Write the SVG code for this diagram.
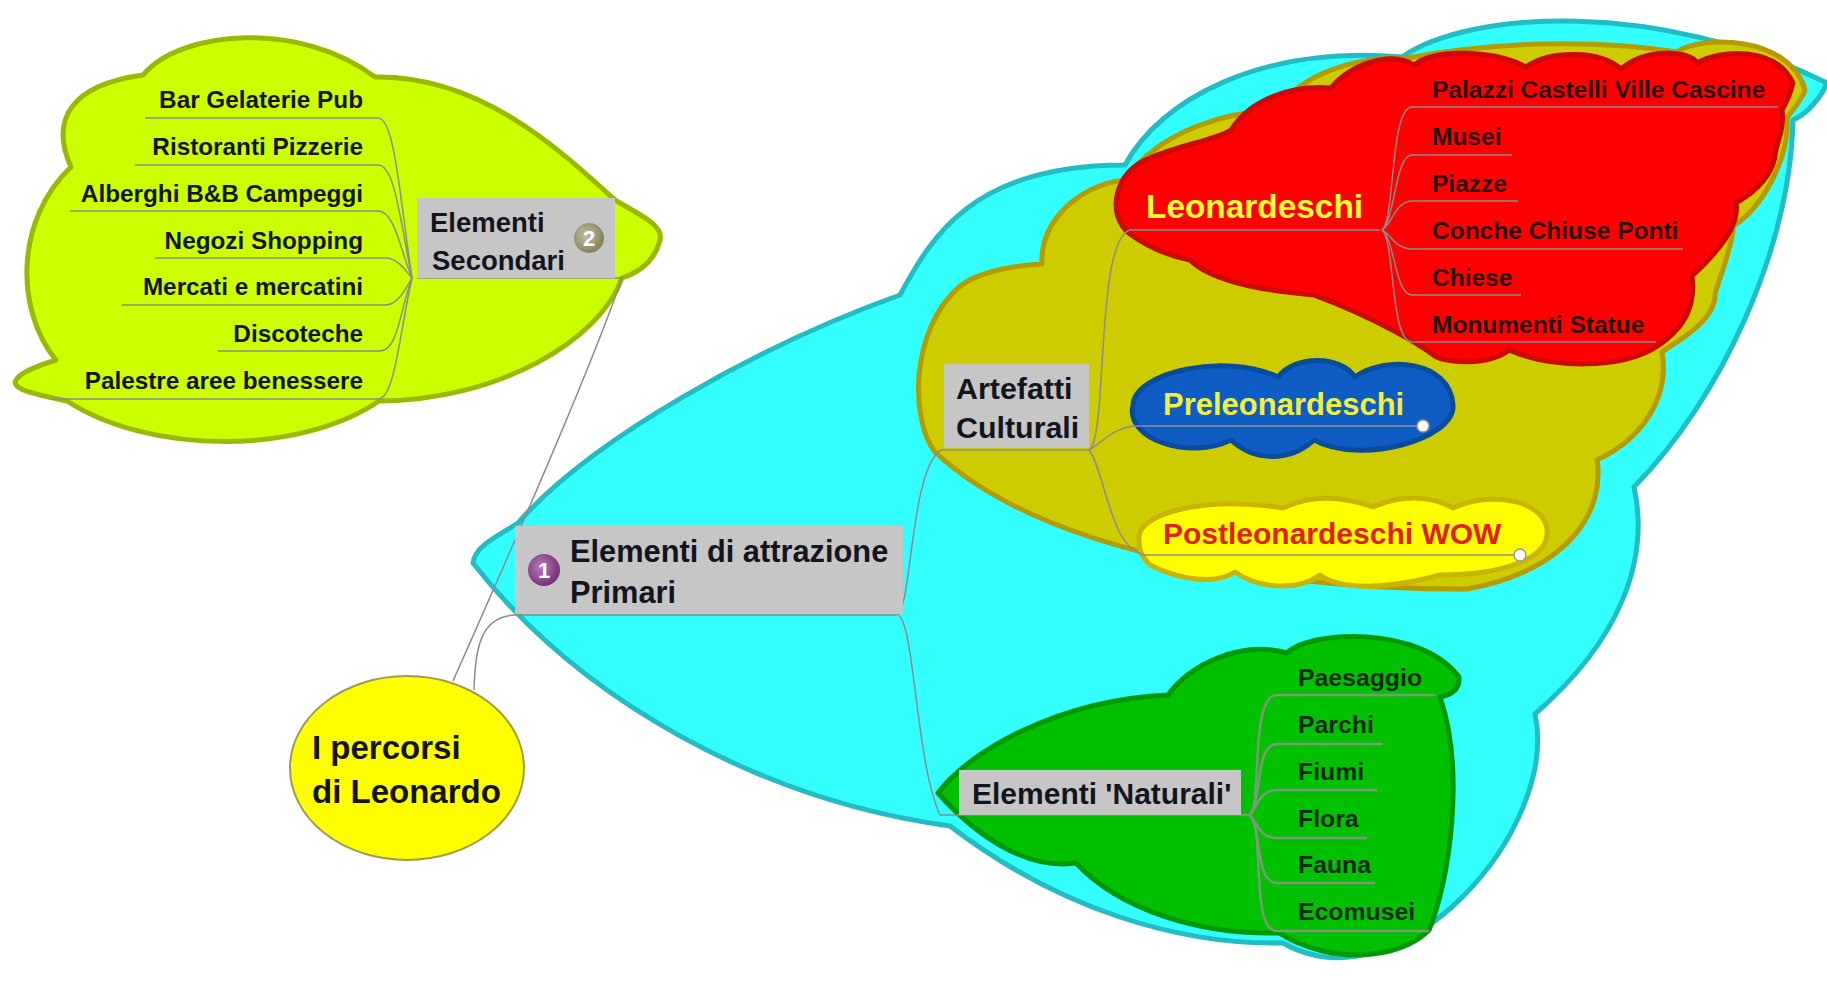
<svg xmlns="http://www.w3.org/2000/svg" width="1827" height="981" viewBox="0 0 1827 981">
<style>
text{font-family:"Liberation Sans",Arial,sans-serif;font-weight:bold;fill:#14141e}
.blob{stroke-width:5;stroke-linejoin:round}
.box{fill:#c6c6c6}
.c{fill:none;stroke:#8c8c8c;stroke-width:1.5}
.g{fill:none;stroke:#7a9a7a;stroke-width:2.5}
.sm{font-size:24.3px}
.dk{fill:#2a0d0d;font-size:24.5px}
.gr{fill:#0c2a10;font-size:24.8px}
.big{font-size:27.5px}
.mid{font-size:30.4px}
.r{text-anchor:end}
.badge{fill:#fff;font-size:22px;text-anchor:middle}
.dot{fill:#fff;stroke:#999;stroke-width:1.5}
</style>
<defs>
<radialGradient id="b1" cx="0.4" cy="0.4" r="0.7"><stop offset="0" stop-color="#b87cb8"/><stop offset="1" stop-color="#6d2570"/></radialGradient>
<radialGradient id="b2" cx="0.4" cy="0.4" r="0.7"><stop offset="0" stop-color="#c4c0a0"/><stop offset="1" stop-color="#7c7650"/></radialGradient>
</defs>
<rect width="1827" height="981" fill="#fff"/>
<g id="regions">
<path id="region-secondari" class="blob" fill="#ccff00" stroke="#99b800" d="M56 360C15 310 15 220 71 167C50 120 70 85 143 75C180 30 300 20 375 77C480 75 560 150 615 200C640 215 664 225 660 240C655 260 640 272 622 278C600 340 500 400 379 401C300 455 150 455 67 401C40 395 10 390 16 380C20 372 40 365 56 360Z"/>
<path id="region-primari" class="blob" fill="#33ffff" stroke="#22bcc4" d="M473 563C475 545 500 535 518 523C590 440 760 345 900 295C930 240 970 165 1125 165C1160 100 1260 45 1402 57C1470 10 1660 0 1827 83C1820 100 1805 115 1793 120C1790 250 1720 400 1634 487C1650 560 1620 640 1535 714C1560 830 1400 1010 1283 943C1180 945 1060 910 950 826C760 800 580 700 473 563Z"/>
<path id="region-artefatti" class="blob" fill="#cccc00" stroke="#b39b00" d="M935 452C910 420 910 330 959 287C980 270 1020 265 1042 264C1040 220 1080 185 1125 180C1160 130 1230 110 1278 111C1300 70 1370 55 1402 59C1500 40 1600 40 1677 52C1700 35 1790 35 1805 90C1802 100 1792 110 1787 118C1790 160 1760 210 1733 226C1735 240 1715 290 1715 295C1715 320 1680 340 1662 352C1670 400 1640 440 1597 460C1605 510 1570 570 1467 589C1300 590 1050 560 935 452Z"/>
<path id="region-leonardeschi" class="blob" fill="#ff0000" stroke="#cc0808" d="M1130 234C1105 215 1115 170 1150 158C1180 145 1215 140 1231 130C1250 100 1290 85 1331 88C1350 65 1390 50 1414 65C1435 48 1495 50 1526 67C1550 50 1600 50 1621 69C1645 48 1690 50 1697 63C1720 50 1775 45 1793 83C1790 95 1785 105 1782 110C1785 130 1775 145 1775 157C1770 180 1750 195 1736 203C1740 225 1720 250 1692 276C1695 300 1690 325 1656 347C1620 370 1550 368 1509 350C1490 365 1445 365 1432 354C1420 345 1380 320 1314 295C1280 292 1215 285 1190 260C1165 255 1145 245 1130 234Z"/>
<path id="region-preleonardeschi" class="blob" fill="#0f5cc4" stroke="#0a4c9c" d="M1231 440C1190 460 1125 440 1133 405C1135 372 1225 352 1278 377C1295 355 1340 355 1355 377C1385 355 1450 360 1453 405C1455 440 1360 465 1314 440C1290 462 1255 462 1231 440Z"/>
<path id="region-postleonardeschi" class="blob" fill="#ffff00" stroke="#c9b400" d="M1139 540C1135 515 1200 495 1283 508C1310 495 1340 495 1373 507C1400 495 1430 495 1453 508C1490 490 1550 500 1547 535C1545 560 1500 575 1440 575C1385 590 1340 590 1320 575C1300 590 1260 590 1235 572C1215 585 1180 580 1150 565C1140 555 1139 548 1139 540Z"/>
<path id="region-naturali" class="blob" fill="#00c000" stroke="#009800" d="M938 793C970 750 1060 700 1168 695C1190 665 1240 640 1287 653C1310 630 1420 625 1459 677C1460 690 1450 695 1440 697C1465 770 1450 880 1429 930C1400 960 1330 965 1279 933C1200 935 1120 910 1076 863C1030 870 980 840 938 793Z"/>
</g>
<g id="connectors">
<path class="c" d="M453 681C520 530 590 370 622 278H417"/>
<path class="c" d="M474 690C475 650 480 616 515 615H897"/>
<path class="c" d="M145 118H378C395 118 400 200 412 278"/>
<path class="c" d="M135 165H378C395 165 400 220 412 278"/>
<path class="c" d="M70 211H378C395 211 400 250 412 278"/>
<path class="c" d="M155 258H385C398 258 405 270 412 278"/>
<path class="c" d="M122 305H385C398 305 405 290 412 278"/>
<path class="c" d="M218 351H380C398 351 400 310 412 278"/>
<path class="c" d="M52 399H378C395 399 400 330 412 278"/>
<path class="c" d="M897 614C912 610 910 470 941 450H1089"/>
<path class="c" d="M897 614C915 620 915 760 940 815H1241"/>
<path class="c" d="M1089 450C1108 440 1095 240 1130 230H1380"/>
<path class="c" d="M1089 450C1105 440 1115 427 1136 426H1423"/>
<path class="c" d="M1089 450C1105 470 1110 550 1145 555H1520"/>
<path class="c" d="M1382 230C1395 220 1390 107 1412 107H1778"/>
<path class="c" d="M1382 230C1395 220 1395 155 1412 155H1512"/>
<path class="c" d="M1382 230C1392 225 1395 201 1412 201H1518"/>
<path class="c" d="M1382 230C1392 235 1395 249 1412 249H1683"/>
<path class="c" d="M1382 230C1395 240 1395 295 1412 295H1521"/>
<path class="c" d="M1382 230C1395 240 1390 342 1412 342H1656"/>
<path class="g" d="M1241 815H1250C1262 800 1250 695 1277 695H1436"/>
<path class="g" d="M1250 815C1262 800 1255 744 1277 744H1383"/>
<path class="g" d="M1250 815C1258 805 1260 790 1277 790H1377"/>
<path class="g" d="M1250 815C1258 825 1260 838 1277 838H1367"/>
<path class="g" d="M1250 815C1262 830 1255 883 1277 883H1375"/>
<path class="g" d="M1250 815C1265 830 1250 931 1277 931H1429"/>
</g>
<g id="root"><ellipse cx="407" cy="768" rx="117" ry="92" fill="#ffff00" stroke="#9c9c50" stroke-width="2"/><text x="312" y="759" font-size="33">I percorsi</text><text x="312" y="803" font-size="33">di Leonardo</text></g>
<g id="elementi-secondari"><rect class="box" x="417" y="198" width="198" height="80"/><text class="big" x="430" y="232">Elementi</text><text class="big" x="432" y="270">Secondari</text><circle cx="589" cy="238" r="15" fill="url(#b2)"/><text class="badge" x="589" y="246">2</text></g>
<g id="n-bar"><text class="sm r" x="363" y="108">Bar Gelaterie Pub</text></g>
<g id="n-ristoranti"><text class="sm r" x="363" y="155">Ristoranti Pizzerie</text></g>
<g id="n-alberghi"><text class="sm r" x="363" y="202">Alberghi B&amp;B Campeggi</text></g>
<g id="n-negozi"><text class="sm r" x="363" y="249">Negozi Shopping</text></g>
<g id="n-mercati"><text class="sm r" x="363" y="295">Mercati e mercatini</text></g>
<g id="n-discoteche"><text class="sm r" x="363" y="342">Discoteche</text></g>
<g id="n-palestre"><text class="sm r" x="363" y="389">Palestre aree benessere</text></g>
<g id="elementi-primari"><rect class="box" x="515" y="526" width="388" height="88"/><circle cx="544" cy="570" r="16" fill="url(#b1)"/><text class="badge" x="544" y="578">1</text><text x="570" y="562" font-size="30.8">Elementi di attrazione</text><text x="570" y="603" font-size="30.8">Primari</text></g>
<g id="artefatti"><rect class="box" x="944" y="364" width="145" height="84"/><text class="mid" x="956" y="399">Artefatti</text><text class="mid" x="956" y="438">Culturali</text></g>
<g id="leonardeschi"><text x="1146" y="218" font-size="33.4" style="fill:#ffff33">Leonardeschi</text></g>
<g id="preleonardeschi"><text x="1163" y="415" font-size="31" style="fill:#f0f040">Preleonardeschi</text><circle class="dot" cx="1423" cy="426" r="6"/></g>
<g id="postleonardeschi"><text x="1163" y="544" font-size="30" style="fill:#e02020">Postleonardeschi WOW</text><circle class="dot" cx="1520" cy="555" r="6"/></g>
<g id="n-palazzi"><text class="dk" x="1432" y="98">Palazzi Castelli Ville Cascine</text></g>
<g id="n-musei"><text class="dk" x="1432" y="145">Musei</text></g>
<g id="n-piazze"><text class="dk" x="1432" y="192">Piazze</text></g>
<g id="n-conche"><text class="dk" x="1432" y="239">Conche Chiuse Ponti</text></g>
<g id="n-chiese"><text class="dk" x="1432" y="286">Chiese</text></g>
<g id="n-monumenti"><text class="dk" x="1432" y="333">Monumenti Statue</text></g>
<g id="naturali"><rect class="box" x="959" y="770" width="282" height="45"/><text x="972" y="804" font-size="30">Elementi 'Naturali'</text></g>
<g id="n-paesaggio"><text class="gr" x="1298" y="686">Paesaggio</text></g>
<g id="n-parchi"><text class="gr" x="1298" y="733">Parchi</text></g>
<g id="n-fiumi"><text class="gr" x="1298" y="780">Fiumi</text></g>
<g id="n-flora"><text class="gr" x="1298" y="827">Flora</text></g>
<g id="n-fauna"><text class="gr" x="1298" y="873">Fauna</text></g>
<g id="n-ecomusei"><text class="gr" x="1298" y="920">Ecomusei</text></g>
</svg>
